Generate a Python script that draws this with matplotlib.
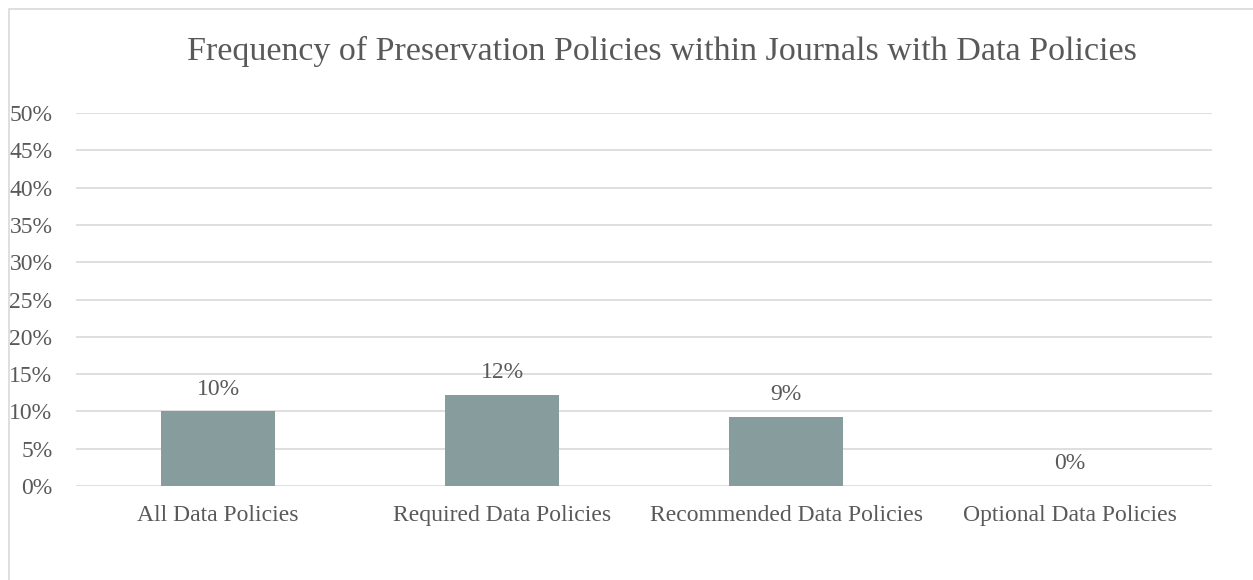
import matplotlib
matplotlib.use('Agg')
import matplotlib.pyplot as plt
from matplotlib.patches import Rectangle
from matplotlib.ticker import PercentFormatter

categories = ['All Data Policies', 'Required Data Policies',
              'Recommended Data Policies', 'Optional Data Policies']
values = [10.0, 12.2, 9.3, 0.0]
labels = ['10%', '12%', '9%', '0%']
yticks = list(range(0, 55, 5))

TEXT = '#595959'
GRID = '#D9D9D9'
BAR = '#879D9D'
FS = 17

plt.rcParams['font.family'] = ['Liberation Serif', 'DejaVu Serif']

W, H = 1253, 580
fig = plt.figure(figsize=(W / 100, H / 100), dpi=100)
ax = fig.add_axes([76 / W, 1 - 486 / H, (1212 - 76) / W, (486 - 113) / H])

x = range(len(categories))
bars = ax.bar(x, values, width=0.4, color=BAR, zorder=3)
for b, v, lab in zip(bars, values, labels):
    ax.annotate(lab, (b.get_x() + b.get_width() / 2, v), xytext=(0, 8.5),
                textcoords='offset points', ha='center', va='bottom',
                fontsize=FS, color=TEXT)

ax.set_xlim(-0.5, len(categories) - 0.5)
ax.set_ylim(0, 50)
ax.set_yticks(yticks)
ax.yaxis.set_major_formatter(PercentFormatter(decimals=0))
ax.set_xticks(list(x))
ax.set_xticklabels(categories)
ax.tick_params(axis='both', length=0, colors=TEXT, labelsize=FS)
ax.tick_params(axis='x', pad=14)
ax.tick_params(axis='y', pad=17)
ax.grid(axis='y', color=GRID, linewidth=1.2, zorder=0)
for s in ax.spines.values():
    s.set_visible(False)

fig.text(0.5 * (190 + 1133) / W, 1 - 51 / H,
         'Frequency of Preservation Policies within Journals with Data Policies',
         ha='center', va='center', fontsize=24.5, color=TEXT)

# chart area border
fig.patches.append(Rectangle((9 / W, -0.1), 1.2, 1.1 - 9 / H, transform=fig.transFigure,
                             fill=False, edgecolor=GRID, linewidth=1.2))

fig.savefig('out.png', dpi=100)
